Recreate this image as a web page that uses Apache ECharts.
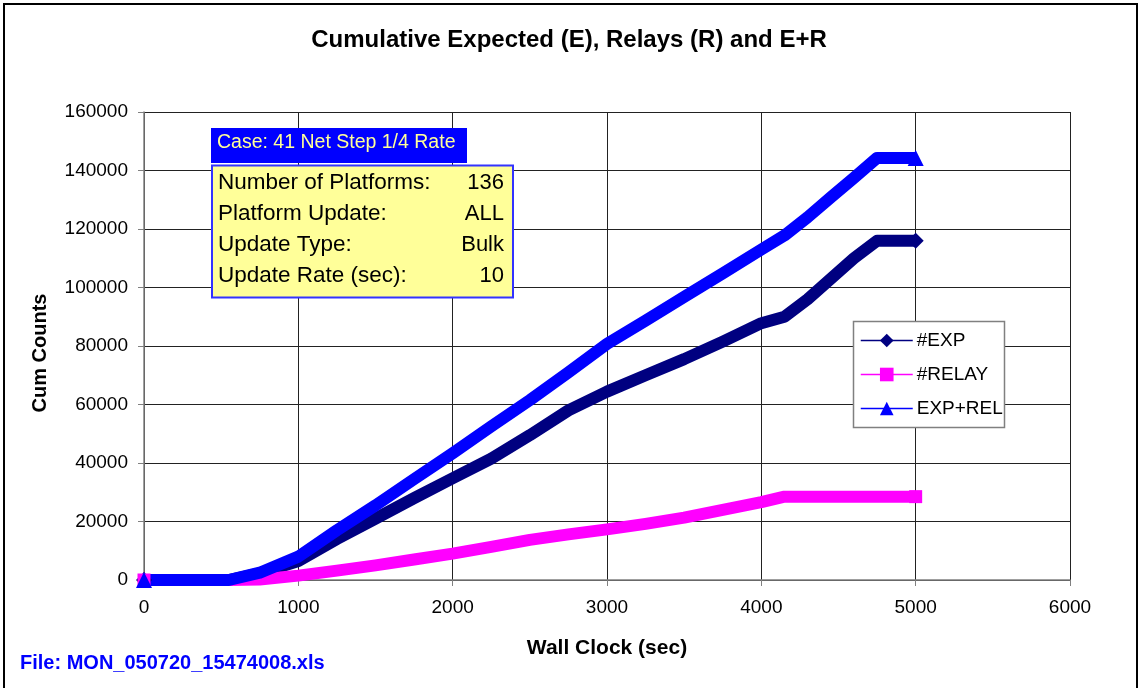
<!DOCTYPE html>
<html><head><meta charset="utf-8">
<script src="https://cdn.jsdelivr.net/npm/echarts@6/dist/echarts.min.js"></script>
<style>html,body{margin:0;padding:0;background:#fff}#c{width:1138px;height:688px}</style>
</head><body><div id="c"></div>
<script>
const wallClock = [0, 500, 550, 750, 1000, 1250, 1500, 1750, 2000, 2250, 2500, 2750, 3000, 3250, 3500, 3750, 4000, 4150, 4300, 4450, 4600, 4750, 5000];
const expCounts = [0, 0, 0, 2300, 6500, 14000, 21000, 28000, 34800, 41500, 49500, 58000, 64400, 70000, 75500, 81500, 87800, 90000, 96000, 103000, 110000, 116000, 116000];
const relayCounts = [0, 0, 0, 200, 1500, 3200, 5000, 7000, 9000, 11300, 13700, 15600, 17300, 19200, 21300, 24000, 26600, 28500, 28500, 28500, 28500, 28500, 28500];
const expRelCounts = [0, 0, 0, 2500, 8000, 17000, 25500, 34500, 43300, 52500, 61500, 71000, 80700, 88700, 96800, 104800, 113000, 117800, 124000, 130800, 137500, 144300, 144300];
const seriesNames = ['#EXP', '#RELAY', 'EXP+REL'];
const titleText = 'Cumulative Expected (E), Relays (R) and E+R';
const xAxisName = 'Wall Clock (sec)';
const yAxisName = 'Cum Counts';
const caseTitle = 'Case: 41 Net Step 1/4 Rate';
const infoLabels = ['Number of Platforms:', 'Platform Update:', 'Update Type:', 'Update Rate (sec):'];
const infoValues = ['136', 'ALL', 'Bulk', '10'];
const fileText = 'File: MON_050720_15474008.xls';

const FONT = '"Liberation Sans", Arial, sans-serif';
function build(ys) {
  const n = ys.length;
  return ys.map((v, i) => (i === 0 || i === n - 1) ? [wallClock[i], v] : { value: [wallClock[i], v], symbol: 'none' });
}
function mk(name, ys, color, symbol, size) {
  return {
    name, type: 'line', data: build(ys), symbol, symbolSize: size, showSymbol: true, showAllSymbol: true,
    clip: false, smooth: false, animation: false,
    lineStyle: { color, width: 12, join: 'round' },
    itemStyle: { color, borderWidth: 0 },
    emphasis: { disabled: true }
  };
}
const chart = echarts.init(document.getElementById('c'), null, { renderer: 'canvas' });
const info = [];
info.push({ type: 'rect', shape: { x: 211, y: 128, width: 256, height: 35 }, style: { fill: '#0000FF' }, z: 10 });
info.push({ type: 'text', x: 217, y: 143, style: { text: caseTitle, fill: '#FFFF99', font: '19.5px ' + FONT, textVerticalAlign: 'middle' }, z: 11 });
info.push({ type: 'rect', shape: { x: 212, y: 165.5, width: 301, height: 132 }, style: { fill: '#FFFF99', stroke: '#3333FF', lineWidth: 2 }, z: 10 });
infoLabels.forEach((t, i) => {
  info.push({ type: 'text', x: 218, y: 183 + i * 31, style: { text: t, fill: '#000', font: '22.5px ' + FONT, textVerticalAlign: 'middle' }, z: 11 });
  info.push({ type: 'text', x: 504, y: 183 + i * 31, style: { text: infoValues[i], fill: '#000', font: '22px ' + FONT, textVerticalAlign: 'middle', textAlign: 'right' }, z: 11 });
});
chart.setOption({
  backgroundColor: '#fff',
  animation: false,
  textStyle: { fontFamily: FONT },
  title: { text: titleText, left: 'center', top: 23, textStyle: { fontFamily: FONT, fontSize: 24, fontWeight: 'bold', color: '#000' } },
  grid: { left: 144, right: 68, top: 112, bottom: 108, containLabel: false },
  xAxis: {
    type: 'value', min: 0, max: 6000, interval: 1000,
    name: xAxisName, nameLocation: 'middle', nameGap: 58,
    nameTextStyle: { fontFamily: FONT, fontSize: 21, fontWeight: 'bold', color: '#000' },
    axisLine: { show: true, lineStyle: { color: '#808080', width: 1.5 } },
    axisTick: { show: true, length: 6, lineStyle: { color: '#808080' } },
    axisLabel: { fontSize: 19, color: '#000', margin: 18, fontFamily: FONT, formatter: v => String(v) },
    splitLine: { show: true, lineStyle: { color: '#222', width: 1 } }
  },
  yAxis: {
    type: 'value', min: 0, max: 160000, interval: 20000,
    axisLine: { show: true, lineStyle: { color: '#808080', width: 1.5 } },
    axisTick: { show: true, length: 6, lineStyle: { color: '#808080' } },
    axisLabel: { fontSize: 19, color: '#000', margin: 16, fontFamily: FONT, formatter: v => String(v) },
    splitLine: { show: true, lineStyle: { color: '#222', width: 1 } }
  },
  legend: {
    orient: 'vertical', left: 860, top: 331, itemWidth: 52, itemHeight: 17, itemGap: 15,
    padding: 0, data: seriesNames, z: 20,
    textStyle: { fontFamily: FONT, fontSize: 19, color: '#000', padding: [0, 0, 0, -1] },
    lineStyle: { width: 1.5 }
  },
  graphic: [
    { type: 'rect', shape: { x: 4, y: 4, width: 1133, height: 700 }, style: { fill: null, stroke: '#000', lineWidth: 2 }, z: 0, silent: true },
    { type: 'rect', shape: { x: 853.5, y: 321.5, width: 151, height: 106 }, style: { fill: '#fff', stroke: '#808080', lineWidth: 1.5 }, z: 5 },
    { type: 'text', x: 20, y: 663, style: { text: fileText, fill: '#0000FF', font: 'bold 20px ' + FONT, textVerticalAlign: 'middle' }, z: 5 },
    { type: 'text', x: 40, y: 353, rotation: Math.PI / 2, style: { text: yAxisName, fill: '#000', font: 'bold 20px ' + FONT, textAlign: 'center', textVerticalAlign: 'middle' }, z: 5 },
    ...info
  ],
  series: [
    mk(seriesNames[0], expCounts, '#000080', 'diamond', 16),
    mk(seriesNames[1], relayCounts, '#FF00FF', 'rect', 13),
    mk(seriesNames[2], expRelCounts, '#0000FF', 'triangle', 16)
  ]
});
</script></body></html>
